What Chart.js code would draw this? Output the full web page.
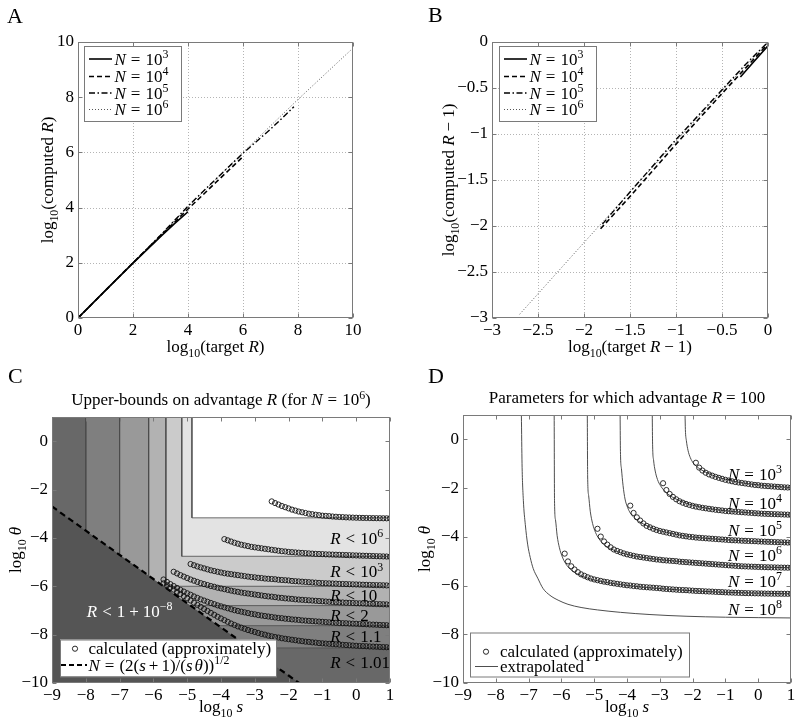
<!DOCTYPE html>
<html>
<head>
<meta charset="utf-8">
<script src="https://cdn.jsdelivr.net/npm/chart.js@4.4.1/dist/chart.umd.min.js"></script>
<style>
  html, body { margin: 0; padding: 0; background: #fff; }
  #wrap { position: relative; width: 800px; height: 722px; overflow: hidden; background: #fff; }
  canvas { position: absolute; }
</style>
</head>
<body>
<div id="wrap">
  <canvas id="cA" width="400" height="361" style="left:0;top:0"></canvas>
  <canvas id="cB" width="400" height="361" style="left:400px;top:0"></canvas>
  <canvas id="cC" width="400" height="361" style="left:0;top:361px"></canvas>
  <canvas id="cD" width="400" height="361" style="left:400px;top:361px"></canvas>
</div>
<script>
// ---- tick values ----
const ticksA = [0, 2, 4, 6, 8, 10];
const ticksB = [-3, -2.5, -2, -1.5, -1, -0.5, 0];
const ticksS = [-9, -8, -7, -6, -5, -4, -3, -2, -1, 0, 1];
const ticksTheta = [-10, -8, -6, -4, -2, 0];
const legendExp = ['3', '4', '5', '6'];

// ---- panel A: log10(target R) vs log10(computed R) ----
const aN3 = [[0, 0], [1, 1], [2, 1.99], [2.5, 2.47], [3, 2.95], [3.5, 3.41], [4, 3.85]];
const aN4 = [[0, 0], [2, 2], [3, 2.97], [4, 3.95], [4.5, 4.42], [5, 4.9], [5.5, 5.37], [6, 5.85]];
const aN5 = [[0, 0], [3, 3], [4, 4.05], [5, 5.02], [6, 5.97], [7, 6.84], [7.85, 7.65]];
const aN6 = [[0, 0], [2, 2], [4, 4.03], [6, 6.0], [8, 7.92], [10, 9.78]];

// ---- panel B: log10(target R-1) vs log10(computed R-1) ----
const bN3 = [[-0.3, -0.38], [-0.15, -0.21], [0, -0.04]];
const bN4 = [[-1.82, -2.03], [-1.5, -1.68], [-1, -1.11], [-0.5, -0.56], [-0.25, -0.29], [0, -0.02]];
const bN5 = [[-1.8, -1.98], [-1.5, -1.63], [-1, -1.06], [-0.5, -0.52], [-0.25, -0.25], [0, 0]];
const bN6 = [[-2.7, -2.96], [-2, -2.18], [-1, -1.08], [-0.5, -0.53], [0, 0]];

// ---- common log10 s grid for the calculated circles ----
const gridS = [-5.9, -5.8, -5.7, -5.6, -5.5, -5.4, -5.3, -5.2, -5.1, -5.0,
  -4.9, -4.8, -4.7, -4.6, -4.5, -4.4, -4.3, -4.2, -4.1, -4.0,
  -3.9, -3.8, -3.7, -3.6, -3.5, -3.4, -3.3, -3.2, -3.1, -3.0,
  -2.9, -2.8, -2.7, -2.6, -2.5, -2.4, -2.3, -2.2, -2.1, -2.0,
  -1.9, -1.8, -1.7, -1.6, -1.5, -1.4, -1.3, -1.2, -1.1, -1.0,
  -0.9, -0.8, -0.7, -0.6, -0.5, -0.4, -0.3, -0.2, -0.1, 0,
  0.1, 0.2, 0.3, 0.4, 0.5, 0.6, 0.7, 0.8, 0.9, 1.0];

// ---- panel C: contour levels (L-shaped regions), boundary line, calculated circles ----
const levelS = [-8, -7, -6.14, -5.63, -5.16, -4.86];
const levelTheta = [-8.55, -7.63, -6.8, -6.0, -4.76, -3.17];
const diagS = [-9, -8, -7, -6, -5, -4, -3, -2, -1.69];
const diagTheta = [-2.7, -3.7, -4.7, -5.7, -6.7, -7.7, -8.7, -9.69, -10];

const cR6 = [-2.49, -2.56, -2.62, -2.68, -2.73, -2.78, -2.83, -2.87, -2.91, -2.94,
  -2.97, -3.0, -3.02, -3.04, -3.06, -3.08, -3.09, -3.1, -3.115, -3.125,
  -3.135, -3.14, -3.15, -3.155, -3.16, -3.165, -3.17, -3.173, -3.176, -3.179,
  -3.182, -3.184, -3.186, -3.188, -3.19, -3.19];
const cR3 = [-4.05, -4.1, -4.15, -4.2, -4.24, -4.28, -4.31, -4.34, -4.37, -4.39,
  -4.41, -4.43, -4.45, -4.47, -4.49, -4.51, -4.53, -4.55, -4.56, -4.58,
  -4.59, -4.6, -4.61, -4.62, -4.63, -4.64, -4.65, -4.66, -4.665, -4.67,
  -4.68, -4.685, -4.69, -4.695, -4.7, -4.705, -4.71, -4.715, -4.72, -4.725,
  -4.73, -4.735, -4.74, -4.745, -4.75, -4.755, -4.76, -4.765, -4.77, -4.78];
const cR10 = [-5.08, -5.13, -5.18, -5.22, -5.26, -5.3, -5.34, -5.37, -5.4, -5.43,
  -5.46, -5.48, -5.5, -5.52, -5.54, -5.56, -5.58, -5.6, -5.62, -5.63,
  -5.65, -5.66, -5.68, -5.69, -5.7, -5.71, -5.73, -5.74, -5.75, -5.76,
  -5.78, -5.79, -5.8, -5.81, -5.82, -5.83, -5.84, -5.85, -5.86, -5.87,
  -5.875, -5.88, -5.885, -5.89, -5.9, -5.905, -5.91, -5.915, -5.92, -5.925,
  -5.93, -5.935, -5.94, -5.945, -5.95, -5.953, -5.956, -5.96, -5.965, -5.97];
const cR2 = [-5.4, -5.47, -5.54, -5.6, -5.66,
  -5.72, -5.77, -5.82, -5.87, -5.91, -5.95, -5.99, -6.02, -6.06, -6.09,
  -6.12, -6.15, -6.18, -6.21, -6.23, -6.26, -6.28, -6.3, -6.32, -6.34,
  -6.36, -6.38, -6.4, -6.42, -6.43, -6.45, -6.47, -6.48, -6.5, -6.51,
  -6.52, -6.54, -6.55, -6.56, -6.57, -6.58, -6.59, -6.6, -6.61, -6.62,
  -6.63, -6.64, -6.65, -6.66, -6.665, -6.67, -6.68, -6.685, -6.69, -6.7,
  -6.705, -6.71, -6.72, -6.725, -6.73, -6.735, -6.74, -6.745, -6.75, -6.76];
const cR11 = [-5.72, -5.82, -5.91, -5.99, -6.07, -6.15, -6.22, -6.29,
  -6.35, -6.42, -6.48, -6.54, -6.59, -6.64, -6.69, -6.74, -6.79, -6.83,
  -6.87, -6.91, -6.95, -6.99, -7.02, -7.05, -7.08, -7.11, -7.14, -7.16,
  -7.19, -7.21, -7.23, -7.25, -7.27, -7.29, -7.31, -7.32, -7.34, -7.35,
  -7.37, -7.38, -7.39, -7.41, -7.42, -7.43, -7.44, -7.45, -7.46, -7.47,
  -7.48, -7.49, -7.5, -7.51, -7.52, -7.525, -7.53, -7.54, -7.545, -7.55,
  -7.56, -7.565, -7.57, -7.58, -7.585, -7.59, -7.6, -7.605, -7.61, -7.62];
const cR101 = [-5.88, -5.96, -6.05, -6.14, -6.23, -6.32, -6.41, -6.5,
  -6.59, -6.68, -6.77, -6.85, -6.94, -7.02, -7.1, -7.18, -7.26, -7.33,
  -7.4, -7.47, -7.54, -7.6, -7.66, -7.71, -7.76, -7.81, -7.85, -7.89,
  -7.93, -7.97, -8.0, -8.04, -8.07, -8.1, -8.12, -8.15, -8.17, -8.19,
  -8.21, -8.23, -8.25, -8.27, -8.29, -8.3, -8.32, -8.33, -8.35, -8.36,
  -8.37, -8.38, -8.39, -8.4, -8.41, -8.42, -8.43, -8.44, -8.45, -8.46,
  -8.47, -8.475, -8.48, -8.49, -8.495, -8.5, -8.51, -8.515, -8.52, -8.53];

// ---- panel D: calculated circles (R = 100) ----
const dN3 = [-0.96, -1.16, -1.28, -1.37, -1.44, -1.49, -1.54, -1.58, -1.62, -1.66,
  -1.69, -1.72, -1.75, -1.77, -1.79, -1.81, -1.83, -1.85, -1.87, -1.88,
  -1.9, -1.91, -1.92, -1.93, -1.94, -1.95, -1.96, -1.97, -1.975, -1.98];
const dN4 = [-1.8, -2.08, -2.24, -2.36, -2.46, -2.54, -2.6, -2.65, -2.69, -2.73,
  -2.76, -2.785, -2.81, -2.83, -2.85, -2.87, -2.89, -2.905, -2.92, -2.94,
  -2.95, -2.96, -2.97, -2.98, -2.99, -3.0, -3.01, -3.02, -3.03, -3.04,
  -3.05, -3.055, -3.06, -3.065, -3.07, -3.075, -3.08, -3.085, -3.09, -3.1];
const dN5 = [-2.72, -3.02, -3.2, -3.33, -3.45, -3.55, -3.61, -3.67, -3.72, -3.76,
  -3.79, -3.82, -3.85, -3.88, -3.91, -3.94, -3.96, -3.98, -4.0, -4.01,
  -4.03, -4.04, -4.05, -4.06, -4.07, -4.08, -4.09, -4.1, -4.11, -4.12,
  -4.13, -4.14, -4.145, -4.15, -4.16, -4.165, -4.17, -4.175, -4.18, -4.19,
  -4.195, -4.2, -4.205, -4.21, -4.215, -4.22, -4.225, -4.23, -4.235, -4.24];
const dN6 = [-3.67, -3.99, -4.19, -4.32, -4.43, -4.52, -4.58, -4.63, -4.68, -4.72,
  -4.75, -4.78, -4.81, -4.83, -4.85, -4.87, -4.89, -4.91, -4.93, -4.94,
  -4.96, -4.97, -4.98, -4.99, -5.0, -5.02, -5.03, -5.04, -5.05, -5.06,
  -5.07, -5.08, -5.09, -5.1, -5.11, -5.12, -5.13, -5.14, -5.15, -5.16,
  -5.17, -5.18, -5.19, -5.2, -5.21, -5.215, -5.22, -5.225, -5.23, -5.235,
  -5.24, -5.245, -5.25, -5.253, -5.256, -5.26, -5.263, -5.266, -5.268, -5.27];
const dN7 = [-4.69, -5.01, -5.21, -5.34, -5.45, -5.54, -5.6, -5.66, -5.71, -5.75,
  -5.78, -5.81, -5.84, -5.86, -5.89, -5.91, -5.93, -5.95, -5.97, -5.99,
  -6.0, -6.02, -6.03, -6.05, -6.06, -6.07, -6.08, -6.09, -6.1, -6.11,
  -6.13, -6.14, -6.15, -6.16, -6.17, -6.18, -6.185, -6.19, -6.2, -6.21,
  -6.22, -6.225, -6.23, -6.24, -6.245, -6.25, -6.26, -6.265, -6.27, -6.28,
  -6.285, -6.29, -6.295, -6.3, -6.305, -6.31, -6.313, -6.316, -6.32, -6.323,
  -6.326, -6.329, -6.331, -6.333, -6.335, -6.336, -6.337, -6.338, -6.339, -6.34];

// ---- panel D: extrapolated curves ----
const eN3 = [[-2.23, 1], [-2.22, 0.4], [-2.19, -0.05], [-2.14, -0.45], [-2.07, -0.75], [-1.98, -0.97],
  [-1.87, -1.12], [-1.75, -1.24], [-1.55, -1.38], [-1.3, -1.52], [-1.0, -1.64], [-0.6, -1.76],
  [-0.2, -1.84], [0.3, -1.91], [1, -1.98]];
const eN4 = [[-3.23, 1], [-3.22, -0.2], [-3.19, -0.85], [-3.14, -1.3], [-3.07, -1.65], [-2.98, -1.9],
  [-2.88, -2.08], [-2.75, -2.25], [-2.55, -2.42], [-2.3, -2.57], [-2.0, -2.7], [-1.6, -2.82],
  [-1.0, -2.93], [-0.3, -3.01], [1, -3.1]];
const eN5 = [[-4.21, 1], [-4.2, -0.5], [-4.17, -1.2], [-4.12, -1.9], [-4.06, -2.45], [-3.98, -2.8],
  [-3.9, -3.02], [-3.75, -3.25], [-3.55, -3.44], [-3.3, -3.6], [-3.0, -3.75], [-2.6, -3.87],
  [-2.1, -3.99], [-1.4, -4.08], [-0.5, -4.16], [1, -4.24]];
const eN6 = [[-5.21, 1], [-5.2, -1.5], [-5.17, -2.3], [-5.12, -2.95], [-5.05, -3.45], [-4.96, -3.82],
  [-4.86, -4.07], [-4.72, -4.3], [-4.5, -4.49], [-4.2, -4.65], [-3.8, -4.78], [-3.3, -4.89],
  [-2.5, -5.0], [-1.5, -5.11], [-0.3, -5.22], [1, -5.27]];
const eN7 = [[-6.22, 1], [-6.21, -2.5], [-6.18, -3.3], [-6.13, -3.95], [-6.06, -4.45], [-5.97, -4.83],
  [-5.87, -5.1], [-5.73, -5.33], [-5.5, -5.53], [-5.2, -5.7], [-4.8, -5.83], [-4.2, -5.96],
  [-3.4, -6.08], [-2.4, -6.18], [-1.2, -6.27], [1, -6.34]];
const eN8 = [[-7.22, 1], [-7.2, -1], [-7.16, -2.5], [-7.1, -3.5], [-7.03, -4.3], [-6.95, -4.85],
  [-6.86, -5.3], [-6.72, -5.7], [-6.56, -6.12], [-6.35, -6.4], [-6.1, -6.6], [-5.8, -6.77],
  [-5.4, -6.9], [-4.9, -7.0], [-4.2, -7.1], [-3.3, -7.19], [-2.2, -7.26], [-1, -7.3], [1, -7.33]];

// ------------------------------------------------------------------
const SERIF = '"Liberation Serif", "DejaVu Serif", serif';
Chart.defaults.font.family = SERIF;
Chart.defaults.font.size = 17;
Chart.defaults.color = '#000';

function pts(arr) { return arr.map(p => ({x: p[0], y: p[1]})); }
function onGrid(ys) {
  const off = gridS.length - ys.length;
  return ys.map((y, i) => ({x: gridS[off + i], y: y}));
}
function fmt(v) { return v < 0 ? '\u2212' + Math.abs(v) : String(v); }

// rich text: parts are strings or {t, i: italic, sub, sup} or {g: gap}
function rich(ctx, parts, x, y, size, o) {
  o = o || {};
  const segs = parts.map(p => {
    if (typeof p === 'string') p = {t: p};
    const fs = (p.sub || p.sup) ? size * 0.7 : size;
    const font = (p.i ? 'italic ' : '') + fs + 'px ' + SERIF;
    ctx.font = font;
    const w = p.g !== undefined ? p.g : ctx.measureText(p.t).width;
    const dy = p.sub ? size * 0.26 : (p.sup ? -size * 0.4 : 0);
    return {t: p.t, font: font, w: w, dy: dy};
  });
  const total = segs.reduce((s, g) => s + g.w, 0);
  ctx.save();
  ctx.translate(x, y);
  if (o.rot) ctx.rotate(-Math.PI / 2);
  let cx = o.align === 'center' ? -total / 2 : (o.align === 'right' ? -total : 0);
  const by = o.middle ? size * 0.32 : 0;
  ctx.fillStyle = o.color || '#000';
  ctx.textAlign = 'left';
  ctx.textBaseline = 'alphabetic';
  segs.forEach(g => {
    if (g.t) { ctx.font = g.font; ctx.fillText(g.t, cx, by + g.dy); }
    cx += g.w;
  });
  ctx.restore();
}

const SUB10 = {t: '10', sub: 1};
const IT = t => ({t: t, i: 1});
const G = g => ({g: g});

function legendBox(ctx, x0, y0, w, h) {
  ctx.fillStyle = '#fff';
  ctx.fillRect(x0, y0, w, h);
  ctx.strokeStyle = '#7a7a7a';
  ctx.lineWidth = 1;
  ctx.setLineDash([]);
  ctx.strokeRect(x0 + 0.5, y0 + 0.5, w, h);
}

const lineStyles = [
  {borderDash: [], borderWidth: 1.6, borderColor: '#000'},
  {borderDash: [5, 3], borderWidth: 1.6, borderColor: '#000'},
  {borderDash: [6, 2.5, 1.5, 2.5], borderWidth: 1.4, borderColor: '#000'},
  {borderDash: [1, 2], borderWidth: 1, borderColor: '#555'}
];

function lineLegend(ctx, x0, y0) {
  legendBox(ctx, x0, y0, 97, 75);
  const rows = [13, 30.5, 47, 63.5];
  legendExp.forEach((e, i) => {
    const yy = y0 + rows[i];
    const st = lineStyles[i];
    ctx.save();
    ctx.strokeStyle = st.borderColor;
    ctx.lineWidth = st.borderWidth;
    ctx.setLineDash(st.borderDash);
    ctx.beginPath();
    ctx.moveTo(x0 + 5, yy);
    ctx.lineTo(x0 + 28, yy);
    ctx.stroke();
    ctx.restore();
    rich(ctx, [IT('N'), G(5), '=', G(5), '10', {t: e, sup: 1}], x0 + 30.5, yy + 5.5, 17);
  });
}

function circleMark(ctx, x, y) {
  ctx.save();
  ctx.strokeStyle = '#111';
  ctx.lineWidth = 0.9;
  ctx.setLineDash([]);
  ctx.beginPath();
  ctx.arc(x, y, 2.6, 0, Math.PI * 2);
  ctx.stroke();
  ctx.restore();
}

function makeFrame(cfg) {
  return {
    id: 'frame',
    beforeDatasetsDraw(chart) {
      const ctx = chart.ctx, a = chart.chartArea, x = chart.scales.x, y = chart.scales.y;
      ctx.save();
      if (cfg.bg) { ctx.fillStyle = cfg.bg; ctx.fillRect(a.left, a.top, a.width, a.height); }
      if (cfg.grid) {
        ctx.strokeStyle = '#b4b4b4';
        ctx.lineWidth = 1;
        ctx.setLineDash([1, 2]);
        ctx.beginPath();
        x.ticks.forEach(t => {
          const p = Math.round(x.getPixelForValue(t.value)) + 0.5;
          if (p > a.left + 2 && p < a.right - 2) { ctx.moveTo(p, a.top); ctx.lineTo(p, a.bottom); }
        });
        y.ticks.forEach(t => {
          const p = Math.round(y.getPixelForValue(t.value)) + 0.5;
          if (p > a.top + 2 && p < a.bottom - 2) { ctx.moveTo(a.left, p); ctx.lineTo(a.right, p); }
        });
        ctx.stroke();
      }
      ctx.restore();
    },
    afterDatasetsDraw(chart) {
      const ctx = chart.ctx, a = chart.chartArea, x = chart.scales.x, y = chart.scales.y;
      ctx.save();
      ctx.strokeStyle = '#7a7a7a';
      ctx.lineWidth = 1;
      ctx.setLineDash([]);
      const L = Math.round(a.left) + 0.5, R = Math.round(a.right) - 0.5;
      const T = Math.round(a.top) + 0.5, B = Math.round(a.bottom) - 0.5;
      ctx.strokeRect(L, T, R - L, B - T);
      ctx.beginPath();
      x.ticks.forEach(t => {
        const p = Math.round(x.getPixelForValue(t.value)) + 0.5;
        ctx.moveTo(p, B); ctx.lineTo(p, B - 4);
        ctx.moveTo(p, T); ctx.lineTo(p, T + 4);
      });
      y.ticks.forEach(t => {
        const p = Math.round(y.getPixelForValue(t.value)) + 0.5;
        ctx.moveTo(L, p); ctx.lineTo(L + 4, p);
        ctx.moveTo(R, p); ctx.lineTo(R - 4, p);
      });
      ctx.stroke();
      ctx.restore();
      if (cfg.draw) { ctx.save(); cfg.draw(ctx, chart); ctx.restore(); }
    }
  };
}

function axis(min, max, ticks, size, isX) {
  return {
    type: 'linear',
    min: min,
    max: max,
    grid: {display: false, drawTicks: false},
    border: {display: false},
    afterBuildTicks: s => { s.ticks = ticks.map(v => ({value: v})); },
    afterFit: s => { if (isX) s.height = size; else s.width = size; },
    ticks: {autoSkip: false, maxRotation: 0, padding: isX ? 2 : 4, color: '#000',
      font: {size: 17}, callback: v => fmt(v)}
  };
}

function makeChart(id, datasets, xr, yr, xt, yt, lay, frameCfg) {
  return new Chart(document.getElementById(id), {
    type: 'line',
    data: {datasets: datasets},
    options: {
      responsive: false,
      animation: false,
      devicePixelRatio: 1,
      events: [],
      layout: {padding: {left: 0, top: lay.top, right: lay.right, bottom: 0}},
      plugins: {legend: {display: false}, tooltip: {enabled: false}},
      scales: {
        x: axis(xr[0], xr[1], xt, lay.xh, true),
        y: axis(yr[0], yr[1], yt, lay.yw, false)
      }
    },
    plugins: [makeFrame(frameCfg)]
  });
}

function lineSets(list) {
  return list.map((d, i) => Object.assign({data: pts(d), pointRadius: 0, fill: false, tension: 0}, lineStyles[i]));
}

// ---- Panel A ----
makeChart('cA', lineSets([aN3, aN4, aN5, aN6]), [0, 10], [0, 10], ticksA, ticksA,
  {top: 42, right: 47, yw: 78, xh: 43},
  {grid: true, draw: (ctx, ch) => {
    const a = ch.chartArea;
    rich(ctx, ['A'], 7, 23, 22);
    rich(ctx, ['log', SUB10, '(target ', IT('R'), ')'], (a.left + a.right) / 2, 347, 17, {align: 'center', middle: true});
    rich(ctx, ['log', SUB10, '(computed ', IT('R'), ')'], 48, (a.top + a.bottom) / 2, 17, {align: 'center', middle: true, rot: true});
    lineLegend(ctx, 84, 46);
  }});

// ---- Panel B ----
makeChart('cB', lineSets([bN3, bN4, bN5, bN6]), [-3, 0], [-3, 0], ticksB, ticksB,
  {top: 42, right: 32, yw: 92, xh: 43},
  {grid: true, draw: (ctx, ch) => {
    const a = ch.chartArea;
    rich(ctx, ['B'], 28, 22, 22);
    rich(ctx, ['log', SUB10, '(target ', IT('R'), G(4), '\u2212', G(4), '1)'], (a.left + a.right) / 2, 347, 17, {align: 'center', middle: true});
    rich(ctx, ['log', SUB10, '(computed ', IT('R'), G(4), '\u2212', G(4), '1)'], 49, (a.top + a.bottom) / 2, 17, {align: 'center', middle: true, rot: true});
    lineLegend(ctx, 99, 46);
  }});

// ---- Panel C ----
const circ = {showLine: false, pointRadius: 2.6, pointBorderWidth: 0.9, pointBorderColor: '#111',
  pointBackgroundColor: 'rgba(0,0,0,0)', fill: false};
const levelColors = ['#7f7f7f', '#999999', '#b2b2b2', '#cbcbcb', '#e3e3e3', '#ffffff'];
const dsC = [];
[cR6, cR3, cR10, cR2, cR11, cR101].forEach(s => dsC.push(Object.assign({data: onGrid(s)}, circ)));
dsC.push({data: diagS.map((s, i) => ({x: s, y: diagTheta[i]})), fill: 'start', backgroundColor: '#555555',
  borderColor: '#000', borderWidth: 2.2, borderDash: [6, 4], pointRadius: 0});
for (let k = levelS.length - 1; k >= 0; k--) {
  dsC.push({data: [{x: levelS[k], y: 1}, {x: levelS[k], y: levelTheta[k]}, {x: 1, y: levelTheta[k]}],
    fill: 'end', backgroundColor: levelColors[k], borderColor: '#4a4a4a', borderWidth: 0.8, pointRadius: 0});
}
makeChart('cC', dsC, [-9, 1], [-10, 1], ticksS, ticksTheta,
  {top: 56, right: 10, yw: 52, xh: 39},
  {bg: '#686868', draw: (ctx, ch) => {
    const a = ch.chartArea, X = ch.scales.x, Y = ch.scales.y;
    rich(ctx, ['C'], 8, 22, 22);
    rich(ctx, ['Upper-bounds on advantage ', IT('R'), ' (for ', IT('N'), G(5), '=', G(5), '10', {t: '6', sup: 1}, ')'],
      (a.left + a.right) / 2, 39, 17, {align: 'center', middle: true});
    rich(ctx, ['log', SUB10, G(4), IT('s')], (a.left + a.right) / 2, 346, 17, {align: 'center', middle: true});
    rich(ctx, ['log', SUB10, G(4), IT('\u03b8')], 16, (a.top + a.bottom) / 2, 17, {align: 'center', middle: true, rot: true});
    const lab = [
      [-4.01, ['10', {t: '6', sup: 1}]], [-5.41, ['10', {t: '3', sup: 1}]], [-6.37, ['10']],
      [-7.21, ['2']], [-8.07, ['1.1']], [-9.17, ['1.01']]
    ];
    lab.forEach(l => rich(ctx, [IT('R'), G(5), '<', G(5)].concat(l[1]), X.getPixelForValue(-0.77), Y.getPixelForValue(l[0]), 17, {middle: true}));
    rich(ctx, [IT('R'), G(5), '<', G(5), '1', G(4), '+', G(4), '10', {t: '\u22128', sup: 1}],
      X.getPixelForValue(-7.97), Y.getPixelForValue(-7.03), 17, {middle: true, color: '#fff'});
    legendBox(ctx, 60, 278.5, 216, 37);
    circleMark(ctx, 75, 287.7);
    rich(ctx, ['calculated (approximately)'], 88.5, 293.2, 17);
    ctx.save();
    ctx.strokeStyle = '#000'; ctx.lineWidth = 2.2; ctx.setLineDash([5, 3]);
    ctx.beginPath(); ctx.moveTo(61, 304); ctx.lineTo(87, 304); ctx.stroke();
    ctx.restore();
    rich(ctx, [IT('N'), G(5), '=', G(5), '(2(', IT('s'), G(3), '+', G(3), '1)/(', IT('s'), G(2), IT('\u03b8'), '))', {t: '1/2', sup: 1}],
      88.5, 309.5, 17);
  }});

// ---- Panel D ----
const dsD = [];
[dN3, dN4, dN5, dN6, dN7].forEach(s => dsD.push(Object.assign({data: onGrid(s)}, circ, {pointBorderColor: '#1a1a1a'})));
[eN3, eN4, eN5, eN6, eN7, eN8].forEach(l => dsD.push({data: pts(l), borderColor: '#3a3a3a', borderWidth: 0.9,
  pointRadius: 0, fill: false, cubicInterpolationMode: 'monotone'}));
makeChart('cD', dsD, [-9, 1], [-10, 1], ticksS, ticksTheta,
  {top: 54, right: 9, yw: 63, xh: 39},
  {draw: (ctx, ch) => {
    const a = ch.chartArea, X = ch.scales.x, Y = ch.scales.y;
    rich(ctx, ['D'], 28, 22, 22);
    rich(ctx, ['Parameters for which advantage ', IT('R'), G(4), '=', G(4), '100'],
      (a.left + a.right) / 2, 36.7, 17, {align: 'center', middle: true});
    rich(ctx, ['log', SUB10, G(4), IT('s')], (a.left + a.right) / 2, 346, 17, {align: 'center', middle: true});
    rich(ctx, ['log', SUB10, G(4), IT('\u03b8')], 25, (a.top + a.bottom) / 2, 17, {align: 'center', middle: true, rot: true});
    const nl = [[-1.43, '3'], [-2.64, '4'], [-3.73, '5'], [-4.76, '6'], [-5.84, '7'], [-6.98, '8']];
    nl.forEach(l => rich(ctx, [IT('N'), G(5), '=', G(5), '10', {t: l[1], sup: 1}], X.getPixelForValue(-0.92), Y.getPixelForValue(l[0]), 17, {middle: true}));
    legendBox(ctx, 70, 271.5, 219, 44);
    circleMark(ctx, 86, 290.7);
    rich(ctx, ['calculated (approximately)'], 100, 296, 17);
    ctx.save();
    ctx.strokeStyle = '#3a3a3a'; ctx.lineWidth = 0.9;
    ctx.beginPath(); ctx.moveTo(75, 305.5); ctx.lineTo(98, 305.5); ctx.stroke();
    ctx.restore();
    rich(ctx, ['extrapolated'], 100, 311, 17);
  }});
</script>
</body>
</html>
